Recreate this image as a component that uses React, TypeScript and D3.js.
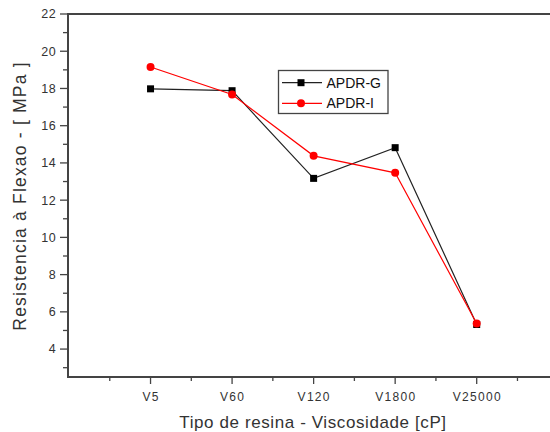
import * as React from 'react';
import * as d3 from 'd3';

const categories = ['V5', 'V60', 'V120', 'V1800', 'V25000'];
const apdrG = [17.98, 17.88, 13.17, 14.82, 5.32];
const apdrI = [19.15, 17.68, 14.38, 13.47, 5.37];
const yMajor = [4, 6, 8, 10, 12, 14, 16, 18, 20, 22];
const yMinor = [3, 5, 7, 9, 11, 13, 15, 17, 19, 21];

const W = 550;
const H = 432;
const left = 68;
const top = 14;
const bottom = 377;

const App = () => {
  const x = d3.scaleLinear().domain([0, 5]).range([69, 476.7]);
  const y = d3.scaleLinear().domain([2.5, 22]).range([bottom, top]);
  const line = d3
    .line<number>()
    .x((d, i) => x(i + 1))
    .y((d) => y(d));

  const xMajor = d3.range(1, 6);
  const xMinor = d3.range(0.5, 6, 1);
  const axisColor = '#444';
  const font = 'Liberation Sans, Arial, sans-serif';

  return (
    <svg
      width={W}
      height={H}
      style={{ position: 'absolute', left: 0, top: 0, background: '#fff' }}
      fontFamily={font}>
      {/* frame */}
      <line x1={left} x2={W} y1={top} y2={top} stroke={axisColor} strokeWidth={2} />
      <line x1={left} x2={left} y1={top - 1} y2={bottom + 1} stroke={axisColor} strokeWidth={2} />
      <line x1={left - 1} x2={W} y1={bottom} y2={bottom} stroke={axisColor} strokeWidth={2} />

      {/* y ticks */}
      {yMajor.map((v) => (
        <g key={'ym' + v}>
          <line x1={left - 8} x2={left} y1={y(v)} y2={y(v)} stroke={axisColor} strokeWidth={1.3} />
          <text x={left - 12} y={y(v)} dy='0.35em' textAnchor='end' fontSize={12.5} letterSpacing={0.4} fill='#333'>
            {v}
          </text>
        </g>
      ))}
      {yMinor.map((v) => (
        <line key={'yn' + v} x1={left - 5} x2={left} y1={y(v)} y2={y(v)} stroke={axisColor} strokeWidth={1.3} />
      ))}

      {/* x ticks */}
      {xMajor.map((v) => (
        <g key={'xm' + v}>
          <line x1={x(v)} x2={x(v)} y1={bottom} y2={bottom + 7} stroke={axisColor} strokeWidth={1.3} />
          <text x={x(v) + 0.6} y={397} dy='0.35em' textAnchor='middle' fontSize={12} letterSpacing={1.3} fill='#333'>
            {categories[v - 1]}
          </text>
        </g>
      ))}
      {xMinor.map((v) => (
        <line key={'xn' + v} x1={x(v)} x2={x(v)} y1={bottom} y2={bottom + 4} stroke={axisColor} strokeWidth={1.3} />
      ))}

      {/* axis titles */}
      <text x={313} y={422} dy='0.35em' textAnchor='middle' fontSize={17} letterSpacing={0.6} fill='#333'>
        Tipo de resina - Viscosidade [cP]
      </text>
      <text
        transform={`translate(20, 196) rotate(-90)`}
        dy='0.35em'
        textAnchor='middle'
        fontSize={17.5}
        letterSpacing={1.2}
        fill='#333'>
        Resistencia à Flexao - [ MPa ]
      </text>

      {/* series */}
      <path d={line(apdrG) || ''} fill='none' stroke='#222' strokeWidth={1.2} />
      {apdrG.map((v, i) => (
        <rect key={'g' + i} x={x(i + 1) - 3.5} y={y(v) - 3.5} width={7} height={7} fill='#000' />
      ))}
      <path d={line(apdrI) || ''} fill='none' stroke='#f00' strokeWidth={1.2} />
      {apdrI.map((v, i) => (
        <circle key={'r' + i} cx={x(i + 1)} cy={y(v)} r={4} fill='#f00' />
      ))}

      {/* legend */}
      <rect x={278.5} y={70.5} width={109.5} height={43} fill='#fff' stroke={axisColor} strokeWidth={1.3} />
      <line x1={282} x2={322} y1={82.7} y2={82.7} stroke='#222' strokeWidth={1.2} />
      <rect x={297.5} y={79.2} width={7} height={7} fill='#000' />
      <text x={326.5} y={82.7} dy='0.35em' fontSize={14} fill='#111'>
        APDR-G
      </text>
      <line x1={282} x2={322} y1={103.3} y2={103.3} stroke='#f00' strokeWidth={1.2} />
      <circle cx={301} cy={103.3} r={4} fill='#f00' />
      <text x={326.5} y={103.3} dy='0.35em' fontSize={14} fill='#111'>
        APDR-I
      </text>
    </svg>
  );
};

export default App;
